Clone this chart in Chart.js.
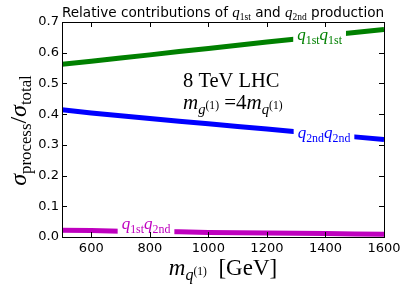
<!DOCTYPE html>
<html>
<head>
<meta charset="utf-8">
<script src="https://cdn.jsdelivr.net/npm/chart.js@4"></script>
<style>
  html, body { margin: 0; padding: 0; background: #fff; }
  canvas { display: block; }
</style>
</head>
<body>
<canvas id="myChart" width="407" height="293"></canvas>
<script>
// values
const masses = [500, 600, 700, 800, 900, 1000, 1100, 1200, 1300, 1400, 1500, 1600];
const fracQ1stQ1st = [0.562, 0.572, 0.583, 0.593, 0.604, 0.614, 0.624, 0.635, 0.645, 0.656, 0.666, 0.676];
const fracQ2ndQ2nd = [0.414, 0.404, 0.395, 0.386, 0.377, 0.369, 0.360, 0.352, 0.343, 0.334, 0.326, 0.317];
const fracQ1stQ2nd = [0.022, 0.021, 0.019, 0.018, 0.017, 0.015, 0.014, 0.013, 0.012, 0.011, 0.010, 0.009];
const xTicks = [600, 800, 1000, 1200, 1400, 1600];
const yTicks = [0.0, 0.1, 0.2, 0.3, 0.4, 0.5, 0.6, 0.7];

const SANS = 'DejaVu Sans';
const SERIF = 'Liberation Serif';

// draw a run of text pieces (math-ish): f = 'i' italic serif, 'r' roman serif, 's' sans
function pieceFont(p, size) {
  const s = size * (p.s || 1);
  if (p.f === 's') return s + 'px "' + SANS + '"';
  if (p.f === 'i') return 'italic ' + s + 'px "' + SERIF + '"';
  return s + 'px "' + SERIF + '"';
}
function richWidth(ctx, parts, size) {
  let w = 0;
  parts.forEach(p => { ctx.font = pieceFont(p, size); w += ctx.measureText(p.t).width; });
  return w;
}
function drawRich(ctx, parts, x, y, size, align) {
  const w = richWidth(ctx, parts, size);
  let cx = align === 'center' ? x - w / 2 : (align === 'right' ? x - w : x);
  ctx.textAlign = 'left';
  ctx.textBaseline = 'alphabetic';
  parts.forEach(p => {
    ctx.font = pieceFont(p, size);
    ctx.fillText(p.t, cx, y + (p.dy || 0) * size);
    cx += ctx.measureText(p.t).width;
  });
  return w;
}
const sub = (t, f) => ({ t: t, f: f || 'r', s: 0.7, dy: 0.22 });

function interp(xs, ys, x) {
  for (let i = 0; i < xs.length - 1; i++) {
    if (x >= xs[i] && x <= xs[i + 1]) {
      const t = (x - xs[i]) / (xs[i + 1] - xs[i]);
      return ys[i] + t * (ys[i + 1] - ys[i]);
    }
  }
  return ys[ys.length - 1];
}

const lineLabels = [
  { at: 1380, values: fracQ1stQ1st, color: '#008000', dy: 4, parts: [{ t: 'q', f: 'i' }, sub('1st'), { t: 'q', f: 'i' }, sub('1st')] },
  { at: 1395, values: fracQ2ndQ2nd, color: '#0000ff', dy: 4, parts: [{ t: 'q', f: 'i' }, sub('2nd'), { t: 'q', f: 'i' }, sub('2nd')] },
  { at: 787, values: fracQ1stQ2nd, color: '#bf00bf', dy: -2, parts: [{ t: 'q', f: 'i' }, sub('1st'), { t: 'q', f: 'i' }, sub('2nd')] },
];

const decorations = {
  id: 'decorations',
  afterDraw(chart) {
    const ctx = chart.ctx;
    const area = chart.chartArea;
    const xs = chart.scales.x;
    const ys = chart.scales.y;
    ctx.save();

    // inline line labels with white box
    lineLabels.forEach(l => {
      const px = xs.getPixelForValue(l.at);
      const py = ys.getPixelForValue(interp(masses, l.values, l.at));
      const w = richWidth(ctx, l.parts, 17);
      ctx.fillStyle = '#fff';
      ctx.fillRect(px - w / 2 - 4, py - 8, w + 8, 16);
      ctx.fillStyle = l.color;
      drawRich(ctx, l.parts, px, py + l.dy, 17, 'center');
    });

    // frame
    ctx.strokeStyle = '#000';
    ctx.lineWidth = 1;
    ctx.strokeRect(Math.round(area.left) + 0.5, Math.round(area.top) + 0.5,
      Math.round(area.right - area.left), Math.round(area.bottom - area.top));

    // inward ticks on all sides
    const tl = 5;
    ctx.beginPath();
    xTicks.forEach(v => {
      const p = Math.round(xs.getPixelForValue(v)) + 0.5;
      ctx.moveTo(p, area.bottom); ctx.lineTo(p, area.bottom - tl);
      ctx.moveTo(p, area.top); ctx.lineTo(p, area.top + tl);
    });
    yTicks.forEach(v => {
      const p = Math.round(ys.getPixelForValue(v)) + 0.5;
      ctx.moveTo(area.left, p); ctx.lineTo(area.left + tl, p);
      ctx.moveTo(area.right, p); ctx.lineTo(area.right - tl, p);
    });
    ctx.stroke();

    ctx.fillStyle = '#000';
    // title
    drawRich(ctx, [
      { t: 'Relative contributions of ', f: 's' }, { t: 'q', f: 'i', s: 1.1 }, sub('1st'),
      { t: ' and ', f: 's' }, { t: 'q', f: 'i', s: 1.1 }, sub('2nd'), { t: ' production', f: 's' }
    ], (area.left + area.right) / 2, 17, 13.6, 'center');

    // annotation
    drawRich(ctx, [{ t: '8 TeV LHC', f: 'r' }], 183, 87, 20.5, 'left');
    drawRich(ctx, [
      { t: 'm', f: 'i' }, { t: 'g', f: 'i', s: 0.7, dy: 0.22 }, { t: '(1)', f: 'r', s: 0.55, dy: -0.02 },
      { t: ' =4', f: 'r' },
      { t: 'm', f: 'i' }, { t: 'q', f: 'i', s: 0.7, dy: 0.22 }, { t: '(1)', f: 'r', s: 0.55, dy: -0.02 }
    ], 183, 109, 21, 'left');

    // x axis title
    drawRich(ctx, [
      { t: 'm', f: 'i' }, { t: 'q', f: 'i', s: 0.7, dy: 0.22 }, { t: '(1)', f: 'r', s: 0.5, dy: -0.02 },
      { t: '  [GeV]', f: 'r' }
    ], (area.left + area.right) / 2, 275, 23, 'center');

    // y axis title
    ctx.translate(26, (area.top + area.bottom) / 2 + 1);
    ctx.rotate(-Math.PI / 2);
    drawRich(ctx, [
      { t: '\u03C3', f: 'i' }, { t: 'process', f: 'r', s: 0.7, dy: 0.22 },
      { t: '/', f: 'r' },
      { t: '\u03C3', f: 'i' }, { t: 'total', f: 'r', s: 0.7, dy: 0.22 }
    ], 0, 0, 24, 'center');

    ctx.restore();
  }
};

function series(values, color) {
  return {
    data: masses.map((m, i) => ({ x: m, y: values[i] })),
    borderColor: color,
    borderWidth: 5,
    borderCapStyle: 'butt',
    pointRadius: 0,
    tension: 0,
    fill: false,
    clip: 0,
  };
}

const ctx = document.getElementById('myChart');
new Chart(ctx, {
  type: 'line',
  data: {
    datasets: [
      series(fracQ1stQ1st, '#008000'),
      series(fracQ2ndQ2nd, '#0000ff'),
      series(fracQ1stQ2nd, '#bf00bf'),
    ],
  },
  options: {
    responsive: false,
    animation: false,
    devicePixelRatio: 1,
    layout: { padding: { top: 22, right: 23, left: 0, bottom: 0 } },
    plugins: { legend: { display: false }, tooltip: { enabled: false } },
    scales: {
      x: {
        type: 'linear',
        min: 500,
        max: 1600,
        afterBuildTicks: s => { s.ticks = xTicks.map(v => ({ value: v })); },
        afterFit: s => { s.height = 56; },
        grid: { display: false, drawTicks: false },
        border: { display: false },
        ticks: { color: '#000', font: { family: SANS, size: 13 }, padding: 4, maxRotation: 0, callback: v => String(v) },
      },
      y: {
        type: 'linear',
        min: 0,
        max: 0.7,
        afterBuildTicks: s => { s.ticks = yTicks.map(v => ({ value: v })); },
        afterFit: s => { s.width = 62; },
        grid: { display: false, drawTicks: false },
        border: { display: false },
        ticks: { color: '#000', font: { family: SANS, size: 13 }, padding: 3, callback: v => v.toFixed(1) },
      },
    },
  },
  plugins: [decorations],
});
</script>
</body>
</html>
